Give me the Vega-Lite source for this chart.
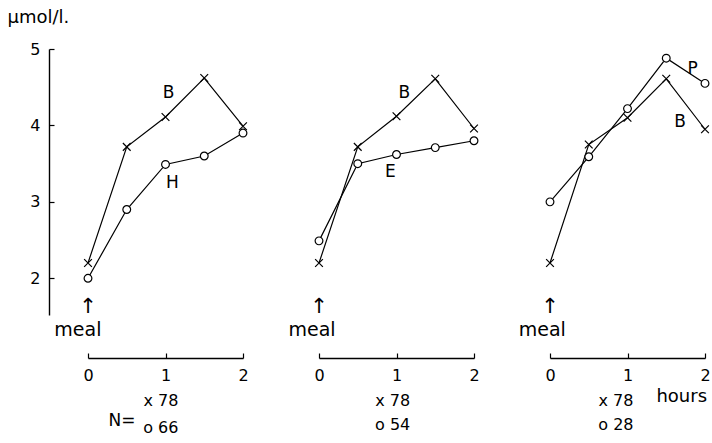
{
  "$schema": "https://vega.github.io/schema/vega-lite/v6.json",
  "background": "white",
  "padding": {"left": 7, "top": 8, "right": 0, "bottom": 0},
  "bounds": "flush",
  "config": {
    "view": {"stroke": null},
    "font": "DejaVu Sans",
    "concat": {"spacing": 76},
    "axis": {
      "domainColor": "black",
      "tickColor": "black",
      "labelColor": "black",
      "titleColor": "black",
      "grid": false,
      "labelFontSize": 16,
      "tickSize": -5,
      "tickWidth": 1.2,
      "domainWidth": 1.4,
      "labelFlush": false
    },
    "text": {"fontSize": 17, "color": "black"}
  },
  "datasets": {
    "series": [
      {"panel": 1, "group": "B", "hours": 0, "value": 2.2},
      {"panel": 1, "group": "B", "hours": 0.5, "value": 3.72},
      {"panel": 1, "group": "B", "hours": 1, "value": 4.11},
      {"panel": 1, "group": "B", "hours": 1.5, "value": 4.62},
      {"panel": 1, "group": "B", "hours": 2, "value": 3.99},
      {"panel": 1, "group": "H", "hours": 0, "value": 2.0},
      {"panel": 1, "group": "H", "hours": 0.5, "value": 2.9},
      {"panel": 1, "group": "H", "hours": 1, "value": 3.49},
      {"panel": 1, "group": "H", "hours": 1.5, "value": 3.6},
      {"panel": 1, "group": "H", "hours": 2, "value": 3.9},
      {"panel": 2, "group": "B", "hours": 0, "value": 2.2},
      {"panel": 2, "group": "B", "hours": 0.5, "value": 3.72},
      {"panel": 2, "group": "B", "hours": 1, "value": 4.12},
      {"panel": 2, "group": "B", "hours": 1.5, "value": 4.61},
      {"panel": 2, "group": "B", "hours": 2, "value": 3.96},
      {"panel": 2, "group": "E", "hours": 0, "value": 2.49},
      {"panel": 2, "group": "E", "hours": 0.5, "value": 3.5},
      {"panel": 2, "group": "E", "hours": 1, "value": 3.62},
      {"panel": 2, "group": "E", "hours": 1.5, "value": 3.71},
      {"panel": 2, "group": "E", "hours": 2, "value": 3.8},
      {"panel": 3, "group": "B", "hours": 0, "value": 2.2},
      {"panel": 3, "group": "B", "hours": 0.5, "value": 3.75},
      {"panel": 3, "group": "B", "hours": 1, "value": 4.1},
      {"panel": 3, "group": "B", "hours": 1.5, "value": 4.61},
      {"panel": 3, "group": "B", "hours": 2, "value": 3.95},
      {"panel": 3, "group": "P", "hours": 0, "value": 3.0},
      {"panel": 3, "group": "P", "hours": 0.5, "value": 3.59},
      {"panel": 3, "group": "P", "hours": 1, "value": 4.22},
      {"panel": 3, "group": "P", "hours": 1.5, "value": 4.88},
      {"panel": 3, "group": "P", "hours": 2, "value": 4.55}
    ],
    "notes": [
      {"panel": 1, "label": "B", "hours": 1.04, "value": 4.42, "size": 17},
      {"panel": 1, "label": "H", "hours": 1.09, "value": 3.25, "size": 17},
      {"panel": 1, "label": "↑", "hours": 0, "value": 1.63, "size": 21},
      {"panel": 1, "label": "meal", "hours": -0.13, "value": 1.33, "size": 19},
      {"panel": 1, "label": "N=", "hours": 0.44, "value": 0.13, "size": 17},
      {"panel": 1, "label": "x 78", "hours": 0.94, "value": 0.39, "size": 16},
      {"panel": 1, "label": "o 66", "hours": 0.94, "value": 0.04, "size": 16},
      {"panel": 2, "label": "B", "hours": 1.1, "value": 4.43, "size": 17},
      {"panel": 2, "label": "E", "hours": 0.92, "value": 3.39, "size": 17},
      {"panel": 2, "label": "↑", "hours": 0, "value": 1.63, "size": 21},
      {"panel": 2, "label": "meal", "hours": -0.09, "value": 1.33, "size": 19},
      {"panel": 2, "label": "x 78", "hours": 0.95, "value": 0.4, "size": 16},
      {"panel": 2, "label": "o 54", "hours": 0.95, "value": 0.08, "size": 16},
      {"panel": 3, "label": "P", "hours": 1.84, "value": 4.74, "size": 17},
      {"panel": 3, "label": "B", "hours": 1.68, "value": 4.04, "size": 17},
      {"panel": 3, "label": "↑", "hours": 0, "value": 1.63, "size": 21},
      {"panel": 3, "label": "meal", "hours": -0.1, "value": 1.33, "size": 19},
      {"panel": 3, "label": "x 78", "hours": 0.85, "value": 0.4, "size": 16},
      {"panel": 3, "label": "o 28", "hours": 0.85, "value": 0.08, "size": 16},
      {"panel": 3, "label": "hours", "hours": 1.7, "value": 0.45, "size": 18}
    ]
  },
  "hconcat": [
    {
      "width": 155,
      "height": 266,
      "layer": [
        {
          "data": {"name": "series"},
          "transform": [{"filter": "datum.panel == 1"}],
          "mark": {"type": "line", "color": "black", "strokeWidth": 1.2},
          "encoding": {
            "x": {"field": "hours", "type": "quantitative", "scale": {"domain": [0, 2], "nice": false},
              "axis": {"values": [0, 0.5, 1, 1.5, 2], "format": "~g", "labelExpr": "datum.value % 1 == 0 ? datum.label : ''", "offset": 43, "title": null, "labelPadding": 14}},
            "y": {"field": "value", "type": "quantitative", "scale": {"domain": [1.52, 5], "nice": false, "zero": false},
              "axis": {"values": [2, 3, 4, 5], "format": "d", "offset": 39, "labelPadding": 14, "title": "μmol/l.", "titleAngle": 0, "titleAlign": "left", "titleBaseline": "alphabetic", "titleX": -42, "titleY": -27, "titleFontSize": 18, "titleFontWeight": "normal"}},
            "detail": {"field": "group"}
          }
        },
        {
          "data": {"name": "series"},
          "transform": [{"filter": "datum.panel == 1"}],
          "mark": {"type": "point", "filled": false, "fill": "white", "stroke": "black", "strokeWidth": 1.2, "opacity": 1, "size": 60},
          "encoding": {
            "x": {"field": "hours", "type": "quantitative"},
            "y": {"field": "value", "type": "quantitative"},
            "shape": {"field": "group", "scale": {"domain": ["B", "H", "E", "P"], "range": ["M-1,-1L1,1M-1,1L1,-1", "circle", "circle", "circle"]}, "legend": null}
          }
        },
        {
          "data": {"name": "notes"},
          "transform": [{"filter": "datum.panel == 1"}],
          "mark": {"type": "text", "align": "center", "baseline": "middle"},
          "encoding": {
            "x": {"field": "hours", "type": "quantitative"},
            "y": {"field": "value", "type": "quantitative"},
            "text": {"field": "label"},
            "size": {"field": "size", "type": "quantitative", "scale": null}
          }
        }
      ]
    },
    {
      "width": 155,
      "height": 266,
      "layer": [
        {
          "data": {"name": "series"},
          "transform": [{"filter": "datum.panel == 2"}],
          "mark": {"type": "line", "color": "black", "strokeWidth": 1.2},
          "encoding": {
            "x": {"field": "hours", "type": "quantitative", "scale": {"domain": [0, 2], "nice": false},
              "axis": {"values": [0, 0.5, 1, 1.5, 2], "format": "~g", "labelExpr": "datum.value % 1 == 0 ? datum.label : ''", "offset": 43, "title": null, "labelPadding": 14}},
            "y": {"field": "value", "type": "quantitative", "scale": {"domain": [1.52, 5], "nice": false, "zero": false}, "axis": null},
            "detail": {"field": "group"}
          }
        },
        {
          "data": {"name": "series"},
          "transform": [{"filter": "datum.panel == 2"}],
          "mark": {"type": "point", "filled": false, "fill": "white", "stroke": "black", "strokeWidth": 1.2, "opacity": 1, "size": 60},
          "encoding": {
            "x": {"field": "hours", "type": "quantitative"},
            "y": {"field": "value", "type": "quantitative"},
            "shape": {"field": "group", "scale": {"domain": ["B", "H", "E", "P"], "range": ["M-1,-1L1,1M-1,1L1,-1", "circle", "circle", "circle"]}, "legend": null}
          }
        },
        {
          "data": {"name": "notes"},
          "transform": [{"filter": "datum.panel == 2"}],
          "mark": {"type": "text", "align": "center", "baseline": "middle"},
          "encoding": {
            "x": {"field": "hours", "type": "quantitative"},
            "y": {"field": "value", "type": "quantitative"},
            "text": {"field": "label"},
            "size": {"field": "size", "type": "quantitative", "scale": null}
          }
        }
      ]
    },
    {
      "width": 155,
      "height": 266,
      "layer": [
        {
          "data": {"name": "series"},
          "transform": [{"filter": "datum.panel == 3"}],
          "mark": {"type": "line", "color": "black", "strokeWidth": 1.2},
          "encoding": {
            "x": {"field": "hours", "type": "quantitative", "scale": {"domain": [0, 2], "nice": false},
              "axis": {"values": [0, 0.5, 1, 1.5, 2], "format": "~g", "labelExpr": "datum.value % 1 == 0 ? datum.label : ''", "offset": 43, "title": null, "labelPadding": 14}},
            "y": {"field": "value", "type": "quantitative", "scale": {"domain": [1.52, 5], "nice": false, "zero": false}, "axis": null},
            "detail": {"field": "group"}
          }
        },
        {
          "data": {"name": "series"},
          "transform": [{"filter": "datum.panel == 3"}],
          "mark": {"type": "point", "filled": false, "fill": "white", "stroke": "black", "strokeWidth": 1.2, "opacity": 1, "size": 60},
          "encoding": {
            "x": {"field": "hours", "type": "quantitative"},
            "y": {"field": "value", "type": "quantitative"},
            "shape": {"field": "group", "scale": {"domain": ["B", "H", "E", "P"], "range": ["M-1,-1L1,1M-1,1L1,-1", "circle", "circle", "circle"]}, "legend": null}
          }
        },
        {
          "data": {"name": "notes"},
          "transform": [{"filter": "datum.panel == 3"}],
          "mark": {"type": "text", "align": "center", "baseline": "middle"},
          "encoding": {
            "x": {"field": "hours", "type": "quantitative"},
            "y": {"field": "value", "type": "quantitative"},
            "text": {"field": "label"},
            "size": {"field": "size", "type": "quantitative", "scale": null}
          }
        }
      ]
    }
  ]
}
